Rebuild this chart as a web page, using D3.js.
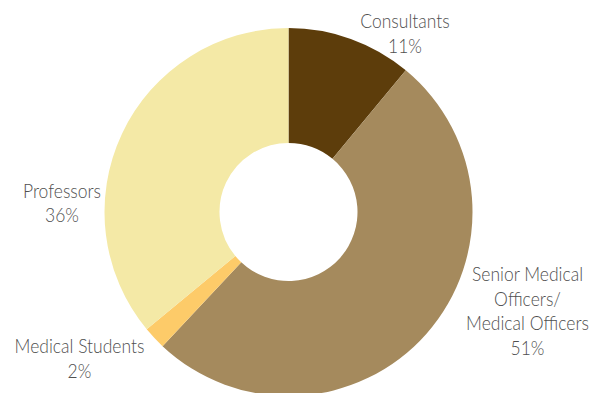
<!DOCTYPE html>
<html>
<head>
<meta charset="utf-8">
<script src="https://cdn.jsdelivr.net/npm/d3@7"></script>
<style>
  html, body { margin: 0; padding: 0; background: #fff; }
  svg { display: block; }
  .lbl { font-family: Lato, "Open Sans", sans-serif; font-weight: 300; font-size: 17.5px; fill: #4f4f4f; }
</style>
</head>
<body>
<svg id="chart" width="603" height="393"></svg>
<script>
// Staff groups and their shares (%)
const categories = ["Consultants", "Senior Medical Officers/ Medical Officers", "Medical Students", "Professors"];
const labelLines = [["Consultants"], ["Senior Medical", "Officers/", "Medical Officers"], ["Medical Students"], ["Professors"]];
const values = [11, 51, 2, 36];
const colors = ["#5d3d0b", "#a58a5d", "#fdcb69", "#f4e9a6"];

const W = 603, H = 393;
const cx = 288.5, cy = 212, outerR = 184, innerR = 69;

const svg = d3.select("#chart");
const g = svg.append("g").attr("transform", `translate(${cx},${cy})`);

const pie = d3.pie().value(d => d).sort(null);
const arc = d3.arc().innerRadius(innerR).outerRadius(outerR);
const arcs = pie(values);

g.selectAll("path.slice")
  .data(arcs)
  .join("path")
  .attr("class", "slice")
  .attr("d", arc)
  .attr("fill", (d, i) => colors[i]);

// Label anchor points (first baseline, relative to the donut centre)
const labelPos = [
  { x: 116.5, y: -184 },
  { x: 239, y: 69 },
  { x: -209, y: 141 },
  { x: -226.5, y: -14.5 }
];
const lineH = 24.6;
const tall = 1.14; // slightly taller glyphs for the label face

arcs.forEach((d, i) => {
  const lines = labelLines[i].concat([values[i] + "%"]);
  lines.forEach((ln, k) => {
    g.append("text")
      .attr("class", "lbl")
      .attr("text-anchor", "middle")
      .attr("transform", `translate(${labelPos[i].x},${labelPos[i].y + k * lineH}) scale(1,${tall})`)
      .text(ln);
  });
});
</script>
</body>
</html>
